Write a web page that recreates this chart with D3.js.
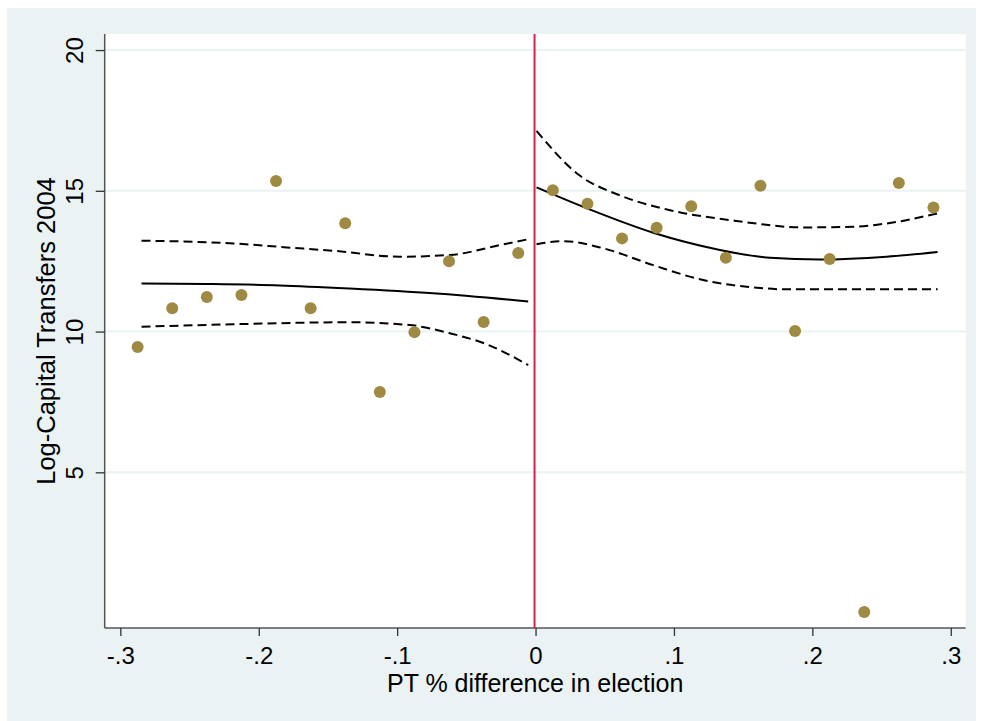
<!DOCTYPE html>
<html><head><meta charset="utf-8">
<script src="https://cdn.jsdelivr.net/npm/d3@7"></script>
<style>html,body{margin:0;padding:0;background:#fff;}svg{display:block;font-family:"Liberation Sans",Arial,sans-serif;}</style>
</head><body><div id="chart"></div>
<script>
// Bin centers and mean outcome
const binX = [-0.2875,-0.2625,-0.2375,-0.2125,-0.1875,-0.1625,-0.1375,-0.1125,-0.0875,-0.0625,-0.0375,-0.0125,
              0.0125,0.0375,0.0625,0.0875,0.1125,0.1375,0.1625,0.1875,0.2125,0.2375,0.2625,0.2875];
const binY = [9.45,10.83,11.23,11.30,15.35,10.83,13.85,7.85,9.98,12.50,10.34,12.79,
              15.02,14.54,13.31,13.69,14.45,12.62,15.18,10.02,12.58,0.04,15.28,14.41];

// Left fit (solid) and CI bands
const leftFitX = [-0.2847,-0.2377,-0.1848,-0.1342,-0.0740,-0.0053];
const leftFitY = [11.71,11.69,11.64,11.53,11.36,11.07];
const leftHiX = [-0.2847,-0.2185,-0.1799,-0.1462,-0.0980,-0.0619,-0.0258,-0.0053];
const leftHiY = [13.23,13.13,12.99,12.87,12.66,12.72,13.07,13.28];
const leftLoX = [-0.2847,-0.2185,-0.1342,-0.0908,-0.0619,-0.0354,-0.0053];
const leftLoY = [10.17,10.26,10.33,10.23,9.94,9.55,8.81];

// Right fit (solid) and CI bands
const rightFitX = [0.0007,0.0369,0.0850,0.1332,0.1694,0.2055,0.2536,0.2905];
const rightFitY = [15.12,14.38,13.51,12.90,12.62,12.56,12.66,12.83];
const rightHiX = [0.0007,0.0314,0.0603,0.0964,0.1452,0.1934,0.2295,0.2536,0.2905];
const rightHiY = [17.13,15.56,14.85,14.32,13.93,13.70,13.72,13.84,14.20];
const rightLoX = [0.0007,0.0199,0.0488,0.0850,0.1211,0.1572,0.1813,0.2905];
const rightLoY = [13.10,13.21,12.96,12.36,11.83,11.57,11.50,11.50];

const xTicks = [-0.3,-0.2,-0.1,0,0.1,0.2,0.3];
const xTickLabels = ["-.3","-.2","-.1","0",".1",".2",".3"];
const yTicks = [5,10,15,20];
const yTickLabels = ["5","10","15","20"];
const xTitle = "PT % difference in election";
const yTitle = "Log-Capital Transfers 2004";

const W = 981, H = 721;
const L = 104.7, R = 965.7, T = 34, B = 628;
const svg = d3.select("#chart").append("svg").attr("width", W).attr("height", H);

svg.append("rect").attr("x",7).attr("y",8).attr("width",976-7).attr("height",H-8).attr("fill","#eaf2f3");
svg.append("rect").attr("x",L).attr("y",T).attr("width",R-L).attr("height",B-T).attr("fill","#ffffff");

const x = d3.scaleLinear().domain([-0.3113, 0.3108]).range([L, R]);
const y = d3.scaleLinear().domain([-0.53, 20.57]).range([B, T]);

// gridlines
svg.append("g").selectAll("line").data(yTicks).join("line")
  .attr("x1", L+1).attr("x2", R).attr("y1", d=>y(d)).attr("y2", d=>y(d))
  .attr("stroke","#eaf2f3").attr("stroke-width",2);

// axes
const xAxis = d3.axisBottom(x).tickValues(xTicks).tickFormat((d,i)=>xTickLabels[i]).tickSize(8).tickPadding(10.5);
const gx = svg.append("g").attr("transform",`translate(0,${B})`).call(xAxis);
gx.select(".domain").attr("stroke","#555").attr("stroke-width",1.5).attr("d",`M${L},0H${R}`);
gx.selectAll(".tick line").attr("stroke","#333").attr("stroke-width",1.3);
gx.selectAll(".tick text").attr("font-size",24).attr("fill","#000").attr("font-family","Liberation Sans, Arial, sans-serif");

const yAxis = d3.axisLeft(y).tickValues(yTicks).tickFormat((d,i)=>yTickLabels[i]).tickSize(9).tickPadding(0);
const gy = svg.append("g").attr("transform",`translate(${L},0)`).call(yAxis);
gy.select(".domain").attr("stroke","#555").attr("stroke-width",1.5).attr("d",`M0,${T}V${B}`);
gy.selectAll(".tick line").attr("stroke","#333").attr("stroke-width",1.3);
gy.selectAll(".tick text").attr("font-size",24).attr("fill","#000")
  .attr("font-family","Liberation Sans, Arial, sans-serif")
  .attr("text-anchor","middle").attr("dy",null).attr("x",null)
  .attr("transform","translate(-22,0) rotate(-90)");

// titles
svg.append("text").attr("x",(L+R)/2).attr("y",692).attr("text-anchor","middle")
  .attr("font-size",25).attr("fill","#000").text(xTitle);
svg.append("text").attr("transform",`translate(55,${(T+B)/2}) rotate(-90)`).attr("text-anchor","middle")
  .attr("font-size",25.5).attr("fill","#000").text(yTitle);

// cutoff line
svg.append("line").attr("x1",x(0)-1).attr("x2",x(0)-1).attr("y1",T).attr("y2",B)
  .attr("stroke","#d8204a").attr("stroke-width",2);

// fits
const line = d3.line().x(d=>x(d[0])).y(d=>y(d[1])).curve(d3.curveMonotoneX);
function drawLine(xs, ys, dashed){
  svg.append("path").attr("d", line(xs.map((v,i)=>[v,ys[i]])))
    .attr("fill","none").attr("stroke","#000").attr("stroke-width",2)
    .attr("stroke-dasharray", dashed ? "9,5" : null);
}
drawLine(leftFitX,leftFitY,false);
drawLine(leftHiX,leftHiY,true);
drawLine(leftLoX,leftLoY,true);
drawLine(rightFitX,rightFitY,false);
drawLine(rightHiX,rightHiY,true);
drawLine(rightLoX,rightLoY,true);

// points
svg.append("g").selectAll("circle").data(binX).join("circle")
  .attr("cx", d=>x(d)).attr("cy", (d,i)=>y(binY[i])).attr("r",6)
  .attr("fill","#9f8a44");
</script></body></html>
